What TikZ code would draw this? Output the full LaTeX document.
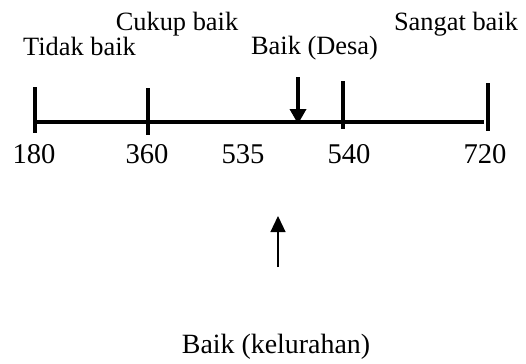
\documentclass[tikz,border=0pt]{standalone}
\usepackage{fontspec}
\setmainfont{Liberation Serif}
\usetikzlibrary{arrows.meta}
\begin{document}
\begin{tikzpicture}[x=1bp,y=-1bp,
  lbl/.style={anchor=base,inner sep=0pt,font=\fontsize{26.5}{30}\selectfont},
  num/.style={anchor=base,inner sep=0pt,font=\fontsize{28.7}{32}\selectfont},
  axis/.style={line width=3.5bp},
  tick/.style={line width=3.5bp},
  bigarrow/.style={line width=3.5bp,-{Triangle[width=16bp,length=15bp]}},
  thinarrow/.style={line width=1.2bp,-{Triangle[width=15bp,length=16bp]}}]
\useasboundingbox (0,0) rectangle (526,363);
% axis
\coordinate (a0) at (36,122);
\coordinate (a1) at (484,122);
\draw[axis] (a0) -- (a1);
% ticks
\coordinate (t1a) at (35,87);  \coordinate (t1b) at (35,133);
\coordinate (t2a) at (148,88); \coordinate (t2b) at (148,135);
\coordinate (t3a) at (343,81); \coordinate (t3b) at (343,129);
\coordinate (t4a) at (488,83); \coordinate (t4b) at (488,131);
\draw[tick] (t1a) -- (t1b);
\draw[tick] (t2a) -- (t2b);
\draw[tick] (t3a) -- (t3b);
\draw[tick] (t4a) -- (t4b);
% numbers
\node[num] (n180) at (34,163) {180};
\node[num] (n360) at (147,163) {360};
\node[num] (n535) at (243,163) {535};
\node[num] (n540) at (349,163) {540};
\node[num] (n720) at (485,163) {720};
% labels
\node[lbl] (tidak) at (79.5,55) {Tidak baik};
\node[lbl] (cukup) at (177,30) {Cukup baik};
\node[lbl] (desa) at (314.5,54) {Baik (Desa)};
\node[lbl] (sangat) at (456,30) {Sangat baik};
\node[lbl,font=\fontsize{28}{32}\selectfont] (kel) at (276,353) {Baik (kelurahan)};
% desa arrow
\coordinate (d0) at (298,77);
\coordinate (d1) at (298,124);
\draw[bigarrow] (d0) -- (d1);
% kelurahan arrow
\coordinate (k0) at (278,267);
\coordinate (k1) at (278,216);
\draw[thinarrow] (k0) -- (k1);
\end{tikzpicture}
\end{document}
